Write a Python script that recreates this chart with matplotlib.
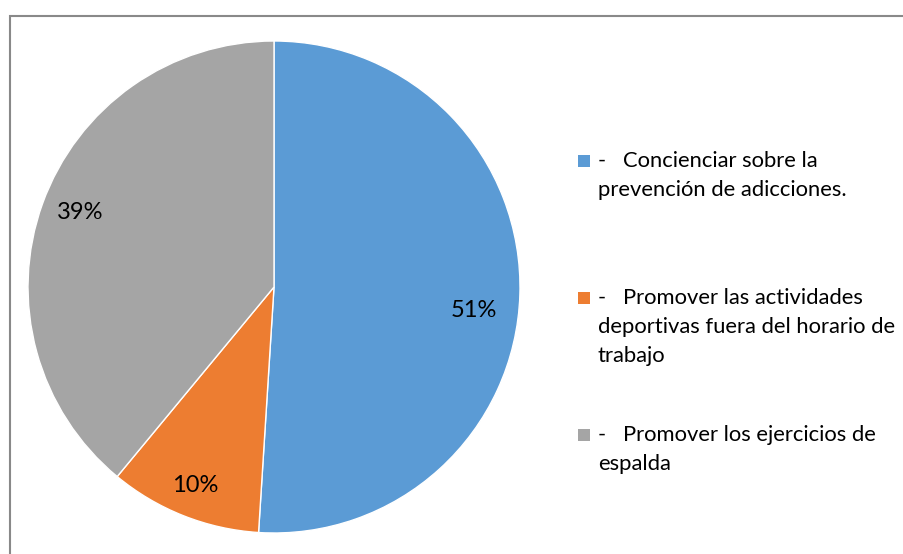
import matplotlib
matplotlib.use("Agg")
import matplotlib.pyplot as plt
import numpy as np
from matplotlib.patches import Rectangle

plt.rcParams['font.family'] = ['Lato', 'DejaVu Sans']

categories = [
    "-   Concienciar sobre la\nprevención de adicciones.",
    "-   Promover las actividades\ndeportivas fuera del horario de\ntrabajo",
    "-   Promover los ejercicios de\nespalda",
]
values = [51, 10, 39]
colors = ["#5B9BD5", "#ED7D31", "#A5A5A5"]

W, H = 904, 554
fig = plt.figure(figsize=(W / 100, H / 100), dpi=100)

# outer border (chart area)
fig.patches.append(Rectangle((10 / W, -0.05), 1.0, 1 - 16 / H + 0.05,
                             transform=fig.transFigure, fill=False,
                             edgecolor="#898989", linewidth=1.5))

cx, cy, r = 274, H - 287, 246
ax = fig.add_axes([(cx - r) / W, (cy - r) / H, 2 * r / W, 2 * r / H])
wedges, texts, autotexts = ax.pie(
    values, colors=colors, startangle=90, counterclock=False,
    autopct="%1.0f%%", pctdistance=0.84,
    wedgeprops=dict(edgecolor="white", linewidth=1),
    textprops=dict(fontsize=17, color="black"))
ax.set_xlim(-1, 1)
ax.set_ylim(-1, 1)
ax.set_aspect("equal")
ax.axis("off")

# best-fit label placement (angle offset in degrees, radial distance)
label_adjust = [(-5.0, 0.82), (0.0, 0.87), (-1.3, 0.845)]
for w, t, (da, dist) in zip(wedges, autotexts, label_adjust):
    mid = np.deg2rad((w.theta1 + w.theta2) / 2 + da)
    t.set_position((dist * np.cos(mid), dist * np.sin(mid)))

# legend (manual layout)
legend_y = [161, 298, 435]
for lab, col, y in zip(categories, colors, legend_y):
    fig.patches.append(Rectangle((578 / W, 1 - (y + 6) / H), 12 / W, 12 / H,
                                 transform=fig.transFigure, facecolor=col,
                                 edgecolor="none"))
    fig.text(598 / W, 1 - (y - 10) / H, lab, fontsize=15.8, va="top",
             ha="left", linespacing=1.55)

fig.savefig("out.png", dpi=100)
